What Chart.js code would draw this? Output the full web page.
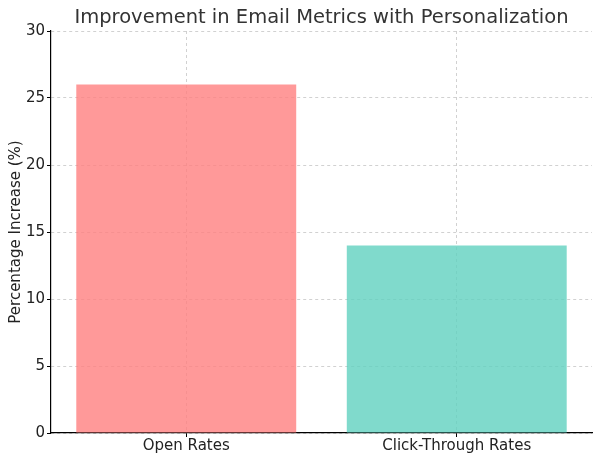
<!DOCTYPE html>
<html>
<head>
<meta charset="utf-8">
<script src="https://cdn.jsdelivr.net/npm/chart.js@4"></script>
<style>
  body { margin: 0; background: #fff; }
  #wrap { width: 600px; height: 458px; }
</style>
</head>
<body>
<div id="wrap"><canvas id="myChart" width="600" height="458"></canvas></div>
<script>
var labels = ["Open Rates", "Click-Through Rates"];
var increase = [26, 14];
var barColors = ["rgba(255,128,128,0.8)", "rgba(96,209,191,0.8)"];
var yTicks = [0, 5, 10, 15, 20, 25, 30];

Chart.defaults.font.family = "'DejaVu Sans', sans-serif";
Chart.defaults.color = "#222";

var ctx = document.getElementById("myChart").getContext("2d");
var chart = new Chart(ctx, {
  type: "bar",
  data: {
    labels: labels,
    datasets: [
      {
        data: increase,
        backgroundColor: barColors,
        borderWidth: 0,
        categoryPercentage: 1,
        barPercentage: 0.813,
      },
    ],
  },
  options: {
    responsive: false,
    animation: false,
    layout: { padding: { top: 0, right: 8, bottom: 0, left: 0 } },
    plugins: {
      legend: { display: false },
      tooltip: { enabled: false },
      title: {
        display: true,
        fullSize: false,
        text: "Improvement in Email Metrics with Personalization",
        color: "#333",
        font: { size: 19.5, weight: "normal" },
        padding: { top: 6, bottom: 1.6 },
      },
    },
    scales: {
      x: {
        grid: {
          offset: false,
          color: "rgba(190,190,190,0.7)",
          tickColor: "#000",
          tickLength: 4,
          tickBorderDash: [],
        },
        border: { display: true, color: "#000", width: 1.2, dash: [3, 3] },
        ticks: { font: { size: 15 }, color: "#222", padding: 0 },
        afterFit: function (s) { s.height = 25; },
      },
      y: {
        min: 0,
        max: 30,
        afterBuildTicks: function (s) {
          s.ticks = yTicks.map(function (v) { return { value: v }; });
        },
        grid: {
          color: "rgba(190,190,190,0.7)",
          tickColor: "#000",
          tickLength: 4,
          tickBorderDash: [],
        },
        border: { display: true, color: "#000", width: 1.2, dash: [3, 3] },
        ticks: { font: { size: 15 }, color: "#222", padding: 2 },
        title: {
          display: true,
          text: "Percentage Increase (%)",
          font: { size: 15 },
          color: "#222",
          padding: { top: 7, bottom: 1 },
        },
        afterFit: function (s) { s.width = 51; },
      },
    },
  },
});
</script>
</body>
</html>
